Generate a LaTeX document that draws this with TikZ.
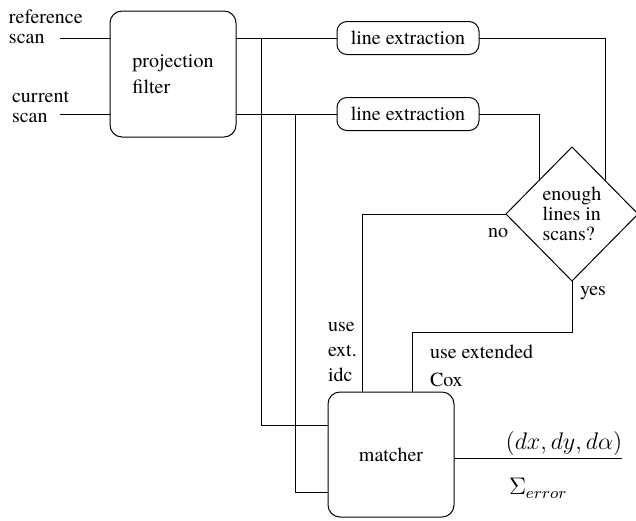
\documentclass[tikz,border=0pt]{standalone}
\usepackage[no-math]{fontspec}
\setmainfont{TeX Gyre Termes}
\usetikzlibrary{shapes.geometric}
\begin{document}
\begin{tikzpicture}[x=0.5pt,y=-0.5pt, line width=0.5pt,
 every node/.style={outer sep=0pt, font=\fontsize{10}{10}\selectfont},
 box/.style={draw, rounded corners=6pt, minimum width=63pt, minimum height=63pt, align=left},
 lebox/.style={draw, rounded corners=5pt, minimum width=71pt, minimum height=16.5pt, inner sep=0pt},
 decbox/.style={draw, diamond, minimum width=66pt, minimum height=67pt, inner sep=0pt, align=left},
 lbl/.style={inner sep=0pt, align=left},
 mathlbl/.style={inner sep=0pt, font=\fontsize{12}{12}\selectfont}]
\useasboundingbox (0,0) rectangle (636,520);
\node[box] (proj) at (173,74) {projection\\[3pt]filter};
\node[lebox] (le1) at (408,38) {line extraction};
\node[lebox] (le2) at (408,114) {line extraction};
\node[decbox] (dec) at (572,214) {enough\\lines in\\scans?};
\node[box, minimum height=62.5pt] (match) at (391,454.5) {matcher};
\node[lbl, anchor=west] (ref) at (9,27) {reference\\scan};
\node[lbl, anchor=west] (cur) at (12,107) {current\\scan};
\coordinate (refin) at (60,38);
\coordinate (curin) at (60,114);
\draw (refin) -- (refin -| proj.west);
\draw (curin) -- (curin -| proj.west);
\draw (proj.east |- le1.west) -- (le1.west);
\draw (proj.east |- le2.west) -- (le2.west);
\coordinate (ja) at (261,38);
\coordinate (jb) at (295,114);
\draw (ja) |- ([yshift=14.75pt]match.west);
\draw (jb) |- ([yshift=-18.75pt]match.west);
\draw (le1.east) -| (dec.north east);
\draw (le2.east) -| (dec.north west);
\draw (dec.west) -| ([xshift=-14.5pt]match.north);
\coordinate (yc) at (572,332);
\draw (dec.south) -- (yc) -| ([xshift=10.5pt]match.north);
\coordinate (out) at (622,458);
\draw (match.east |- out) -- (out);
\node[lbl] (no) at (498,233) {no};
\node[lbl] (yes) at (593,293) {yes};
\node[lbl, anchor=west] (idc) at (328,352) {use\\[2.5pt]ext.\\[2.5pt]idc};
\node[lbl, anchor=west] (cox) at (430,366) {use extended\\[4pt]Cox};
\node[mathlbl] (pose) at (564,443) {$(dx,dy,d\alpha)$};
\node[mathlbl, anchor=west] (err) at (509,488) {$\Sigma_{error}$};
\end{tikzpicture}
\end{document}
